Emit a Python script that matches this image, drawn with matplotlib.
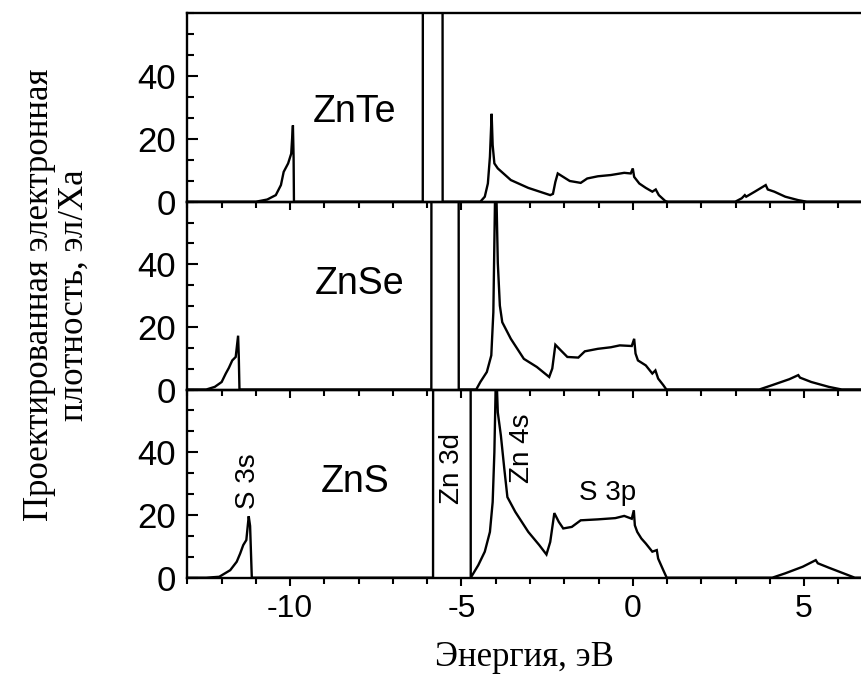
import matplotlib
matplotlib.use('Agg')
import matplotlib.pyplot as plt
from matplotlib.ticker import MultipleLocator, FixedLocator

plt.rcParams['axes.unicode_minus'] = False
plt.rcParams['font.family'] = ['Liberation Sans', 'DejaVu Sans']

# ---------------- data (energy, eV ; projected DOS, el/Ha) ----------------
znte_energy = [-13.0, -11.0, -10.67, -10.42, -10.27, -10.19, -10.06, -9.97, -9.92, -9.90, -9.89,
               -6.13, -6.12, -5.56, -5.55,
               -4.45, -4.32, -4.23, -4.17, -4.12, -4.09, -4.04, -3.94, -3.56, -3.05, -2.41, -2.33,
               -2.26, -2.19, -2.03, -1.84, -1.52, -1.33, -1.02, -0.64, -0.25, -0.06, 0.0, 0.04,
               0.19, 0.38, 0.57, 0.67, 0.76, 0.95, 1.02,
               2.99, 3.18, 3.27, 3.31, 3.56, 3.88, 3.94, 4.13, 4.45, 4.83, 5.08, 6.7]
znte_dos = [0, 0, 0.7, 2.1, 5.3, 9.5, 12.2, 15.3, 24.3, 14.0, 0,
            0, 300, 300, 0,
            0, 1.6, 5.8, 14.3, 28.0, 18.0, 12.2, 10.6, 6.9, 4.4, 2.1, 2.5,
            6.3, 9.0, 7.9, 6.6, 6.0, 7.4, 8.1, 8.5, 9.2, 9.0, 10.6, 7.9,
            5.8, 4.4, 3.2, 3.9, 2.1, 0.2, 0,
            0, 1.1, 2.1, 1.6, 3.2, 5.3, 3.9, 3.2, 1.6, 0.5, 0, 0]

znse_energy = [-13.0, -12.45, -12.2, -12.0, -11.88, -11.79, -11.69, -11.59, -11.52, -11.50, -11.48,
               -5.88, -5.87, -5.09, -5.08,
               -4.57, -4.45, -4.26, -4.13, -4.07, -4.02, -3.98, -3.94, -3.88, -3.81, -3.56, -3.18,
               -2.80, -2.44, -2.35, -2.26, -2.10, -1.91, -1.59, -1.40, -1.02, -0.64, -0.38, -0.03,
               0.04, 0.08, 0.15, 0.38, 0.57, 0.66, 0.74, 0.89, 0.98,
               3.69, 4.07, 4.57, 4.83, 4.88, 5.21, 5.72, 6.10, 6.7]
znse_dos = [0, 0, 0.85, 2.4, 5.1, 6.9, 9.3, 10.4, 17.2, 10.5, 0,
            0, 300, 300, 0,
            0, 2.4, 5.6, 10.9, 24.7, 62.0, 62.0, 40.5, 26.8, 21.5, 16.2, 9.8,
            7.2, 4.0, 6.7, 14.3, 12.5, 10.4, 10.2, 12.2, 13.0, 13.5, 14.1, 13.9,
            16.2, 11.5, 9.3, 7.7, 5.1, 6.1, 3.5, 1.4, 0,
            0, 1.4, 3.3, 4.6, 3.8, 2.4, 0.85, 0, 0]

zns_energy = [-13.0, -12.45, -12.07, -11.75, -11.56, -11.46, -11.37, -11.28, -11.21, -11.17, -11.12,
              -5.83, -5.82, -4.74, -4.73,
              -4.51, -4.32, -4.17, -4.09, -4.04, -4.00, -3.97, -3.94, -3.85, -3.75, -3.66, -3.43,
              -3.05, -2.73, -2.52, -2.41, -2.29, -2.16, -2.03, -1.78, -1.52, -1.02, -0.51, -0.25,
              -0.03, 0.03, 0.06, 0.13, 0.25, 0.38, 0.57, 0.70, 0.74, 0.89, 0.99,
              4.07, 4.45, 4.96, 5.34, 5.40, 5.72, 6.23, 6.48, 6.7]
zns_dos = [0, 0, 0.3, 2.4, 5.1, 7.7, 10.4, 12.0, 19.6, 16.5, 0,
           0, 300, 300, 0,
           4.0, 8.3, 14.6, 24.1, 40.0, 62.0, 62.0, 52.7, 45.3, 34.7, 25.7, 21.0,
           14.6, 10.4, 7.4, 11.4, 20.6, 17.8, 15.7, 16.2, 18.3, 18.6, 19.0, 19.7,
           18.8, 21.5, 16.7, 14.6, 12.5, 10.9, 8.3, 8.8, 6.1, 2.4, 0,
           0, 1.4, 3.5, 5.6, 4.6, 3.2, 1.06, 0, 0]

panel_names = ['ZnTe', 'ZnSe', 'ZnS']
panel_energy = [znte_energy, znse_energy, zns_energy]
panel_dos = [znte_dos, znse_dos, zns_dos]
panel_name_pos = [(-8.11, 25.4), (-7.98, 30.5), (-8.1, 27.3)]

x_major = [-10, -5, 0, 5]
y_major = [0, 20, 40]

# rotated / orbital annotations in the ZnS panel: (text, x, y, rotation)
orbital_labels = [('S 3s', -11.24, 30.7, 90), ('Zn 3d', -5.27, 34.8, 90),
                  ('Zn 4s', -3.24, 41.3, 90)]
s3p_label = ('S 3p', -0.73, 24.7)

# ---------------- figure ----------------
fig = plt.figure(figsize=(8.62, 6.76), dpi=100)
left, right = 0.2166, 1.0
bounds = [(0.7016, 0.9803), (0.4238, 0.7016), (0.1454, 0.4238)]

axes = []
for i, (b, t) in enumerate(bounds):
    ax = fig.add_axes([left, b, right - left, t - b])
    ax.plot(panel_energy[i], panel_dos[i], color='black', lw=1.7, solid_joinstyle='miter')
    ax.set_xlim(-13.02, 6.69)
    ax.set_ylim(0, 60)
    ax.spines['right'].set_visible(False)
    for s in ['left', 'top', 'bottom']:
        ax.spines[s].set_linewidth(1.7)
    ax.xaxis.set_major_locator(FixedLocator(x_major))
    ax.xaxis.set_minor_locator(MultipleLocator(1))
    ax.yaxis.set_major_locator(FixedLocator(y_major))
    ax.yaxis.set_minor_locator(MultipleLocator(20 / 3))
    ax.tick_params(axis='y', which='major', direction='in', length=8, width=1.5,
                   labelsize=25, pad=8)
    ax.tick_params(axis='y', which='minor', direction='in', length=5, width=1.5)
    ax.tick_params(axis='x', which='major', direction='out', length=6, width=1.5,
                   labelsize=23, pad=6, labelbottom=(i == 2))
    ax.tick_params(axis='x', which='minor', direction='out', length=4, width=1.5)
    ax.tick_params(top=False, right=False)
    nx, ny = panel_name_pos[i]
    ax.text(nx, ny, panel_names[i], fontsize=27, ha='center', va='baseline')
    ax.patch.set_alpha(0)
    axes.append(ax)

axb = axes[2]
for txt, x, y, rot in orbital_labels:
    axb.text(x, y, txt, fontsize=20, rotation=rot, ha='center', va='center')
axb.text(s3p_label[1], s3p_label[2], s3p_label[0], fontsize=20, ha='center', va='baseline')

fig.text(57 / 862, 1 - 295 / 676, 'Проектированная электронная\nплотность, эл/Ха',
         rotation=90, ha='center', va='center', multialignment='center',
         fontsize=25, family=['Liberation Serif', 'DejaVu Serif'], linespacing=1.05)
fig.text(524 / 862, 1 - 657 / 676, 'Энергия, эВ', ha='center', va='center',
         fontsize=25, family=['Liberation Serif', 'DejaVu Serif'])

fig.savefig('out.png', dpi=100)
